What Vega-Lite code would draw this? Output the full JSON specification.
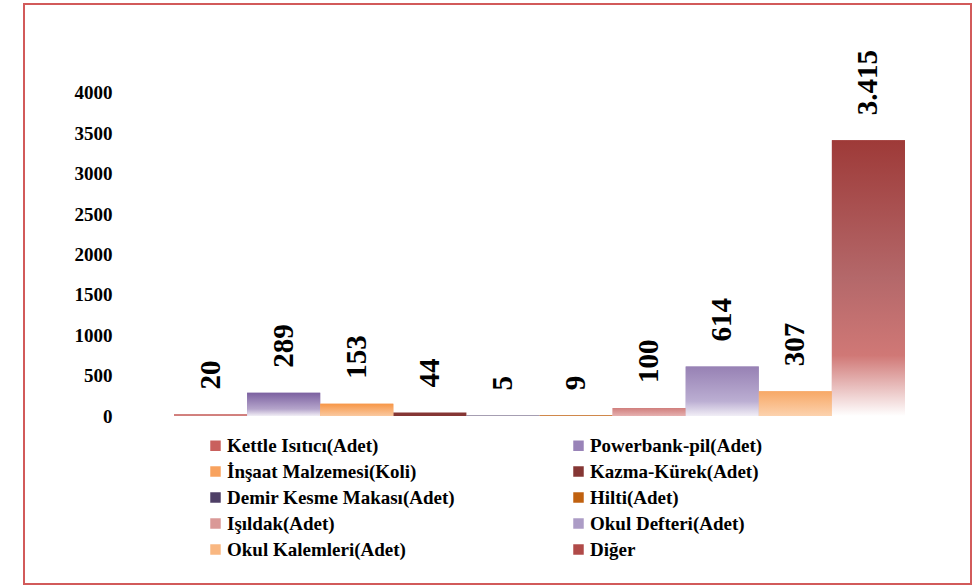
{
  "$schema": "https://vega.github.io/schema/vega-lite/v6.json",
  "width": 947,
  "height": 580,
  "autosize": "none",
  "padding": {"left": 24, "top": 4, "right": 4, "bottom": 2},
  "background": "white",
  "config": {
    "view": {"stroke": "#D25A5A", "strokeWidth": 2},
    "locale": {"number": {"decimal": ",", "thousands": ".", "grouping": [3], "currency": ["", " TL"]}},
    "font": "Liberation Serif"
  },
  "data": {
    "values": [
      {"kategori": "Kettle Isıtıcı(Adet)", "miktar": 20},
      {"kategori": "Powerbank-pil(Adet)", "miktar": 289},
      {"kategori": "İnşaat Malzemesi(Koli)", "miktar": 153},
      {"kategori": "Kazma-Kürek(Adet)", "miktar": 44},
      {"kategori": "Demir Kesme Makası(Adet)", "miktar": 5},
      {"kategori": "Hilti(Adet)", "miktar": 9},
      {"kategori": "Işıldak(Adet)", "miktar": 100},
      {"kategori": "Okul Defteri(Adet)", "miktar": 614},
      {"kategori": "Okul Kalemleri(Adet)", "miktar": 307},
      {"kategori": "Diğer", "miktar": 3415}
    ]
  },
  "encoding": {
    "x": {
      "field": "kategori", "type": "nominal", "sort": null, "axis": null,
      "scale": {"paddingInner": 0, "paddingOuter": 0, "range": [150, 881]}
    },
    "y": {
      "field": "miktar", "type": "quantitative",
      "scale": {"domain": [-2080, 5102], "nice": false, "zero": false},
      "axis": {
        "values": [0, 500, 1000, 1500, 2000, 2500, 3000, 3500, 4000],
        "format": "d", "grid": false, "domain": false, "ticks": false,
        "labelPadding": 0, "offset": -88, "title": null,
        "labelFont": "Liberation Serif", "labelFontWeight": "bold",
        "labelFontSize": 19, "labelColor": "#000000"
      }
    },
    "y2": {"datum": 0}
  },
  "layer": [
    {
      "mark": {"type": "bar"},
      "encoding": {
        "color": {
          "field": "kategori", "type": "nominal", "sort": null,
          "scale": {
            "range": ["#C9605D", "#9983B8", "#F8A25E", "#853634", "#4E3F66", "#C0610F", "#DA9997", "#AC9CC6", "#F9B781", "#B04A48"]
          },
          "legend": {
            "orient": "none", "legendX": 182, "legendY": 432, "direction": "horizontal",
            "columns": 2, "columnPadding": 114, "rowPadding": 6,
            "title": null, "symbolType": "square", "symbolSize": 110,
            "symbolStrokeWidth": 0, "labelFont": "Liberation Serif",
            "labelFontWeight": "bold", "labelFontSize": 19, "labelColor": "#000000",
            "labelOffset": 2, "labelLimit": 0
          }
        }
      }
    },
    {
      "transform": [{"filter": "datum.kategori == 'Kettle Isıtıcı(Adet)'"}],
      "mark": {"type": "bar", "color": {"gradient": "linear", "x1": 0, "y1": 0, "x2": 0, "y2": 1, "stops": [{"offset": 0, "color": "#C0504D"}, {"offset": 1, "color": "#D99694"}]}}
    },
    {
      "transform": [{"filter": "datum.kategori == 'Powerbank-pil(Adet)'"}],
      "mark": {"type": "bar", "color": {"gradient": "linear", "x1": 0, "y1": 0, "x2": 0, "y2": 1, "stops": [{"offset": 0, "color": "#7B60A0"}, {"offset": 0.7, "color": "#B5A5CB"}, {"offset": 1, "color": "#F2EFF6"}]}}
    },
    {
      "transform": [{"filter": "datum.kategori == 'İnşaat Malzemesi(Koli)'"}],
      "mark": {"type": "bar", "color": {"gradient": "linear", "x1": 0, "y1": 0, "x2": 0, "y2": 1, "stops": [{"offset": 0, "color": "#F79646"}, {"offset": 1, "color": "#FAC9A0"}]}}
    },
    {
      "transform": [{"filter": "datum.kategori == 'Işıldak(Adet)'"}],
      "mark": {"type": "bar", "color": {"gradient": "linear", "x1": 0, "y1": 0, "x2": 0, "y2": 1, "stops": [{"offset": 0, "color": "#D07E7C"}, {"offset": 1, "color": "#E6B1B0"}]}}
    },
    {
      "transform": [{"filter": "datum.kategori == 'Okul Defteri(Adet)'"}],
      "mark": {"type": "bar", "color": {"gradient": "linear", "x1": 0, "y1": 0, "x2": 0, "y2": 1, "stops": [{"offset": 0, "color": "#9781B4"}, {"offset": 0.7, "color": "#BBAED2"}, {"offset": 1, "color": "#F1EEF6"}]}}
    },
    {
      "transform": [{"filter": "datum.kategori == 'Okul Kalemleri(Adet)'"}],
      "mark": {"type": "bar", "color": {"gradient": "linear", "x1": 0, "y1": 0, "x2": 0, "y2": 1, "stops": [{"offset": 0, "color": "#F7A866"}, {"offset": 1, "color": "#FCD2AE"}]}}
    },
    {
      "transform": [{"filter": "datum.kategori == 'Diğer'"}],
      "mark": {"type": "bar", "color": {"gradient": "linear", "x1": 0, "y1": 0, "x2": 0, "y2": 1, "stops": [{"offset": 0, "color": "#9E3A38"}, {"offset": 0.5, "color": "#B4686A"}, {"offset": 0.78, "color": "#D07876"}, {"offset": 1, "color": "#FFFFFF"}]}}
    },
    {
      "mark": {"type": "text", "angle": 270, "align": "left", "baseline": "middle", "dx": 25, "font": "Liberation Serif", "fontWeight": "bold", "fontSize": 29, "color": "#000000"},
      "encoding": {
        "y2": null,
        "text": {"field": "miktar", "type": "quantitative", "format": ",d"}
      }
    }
  ]
}
